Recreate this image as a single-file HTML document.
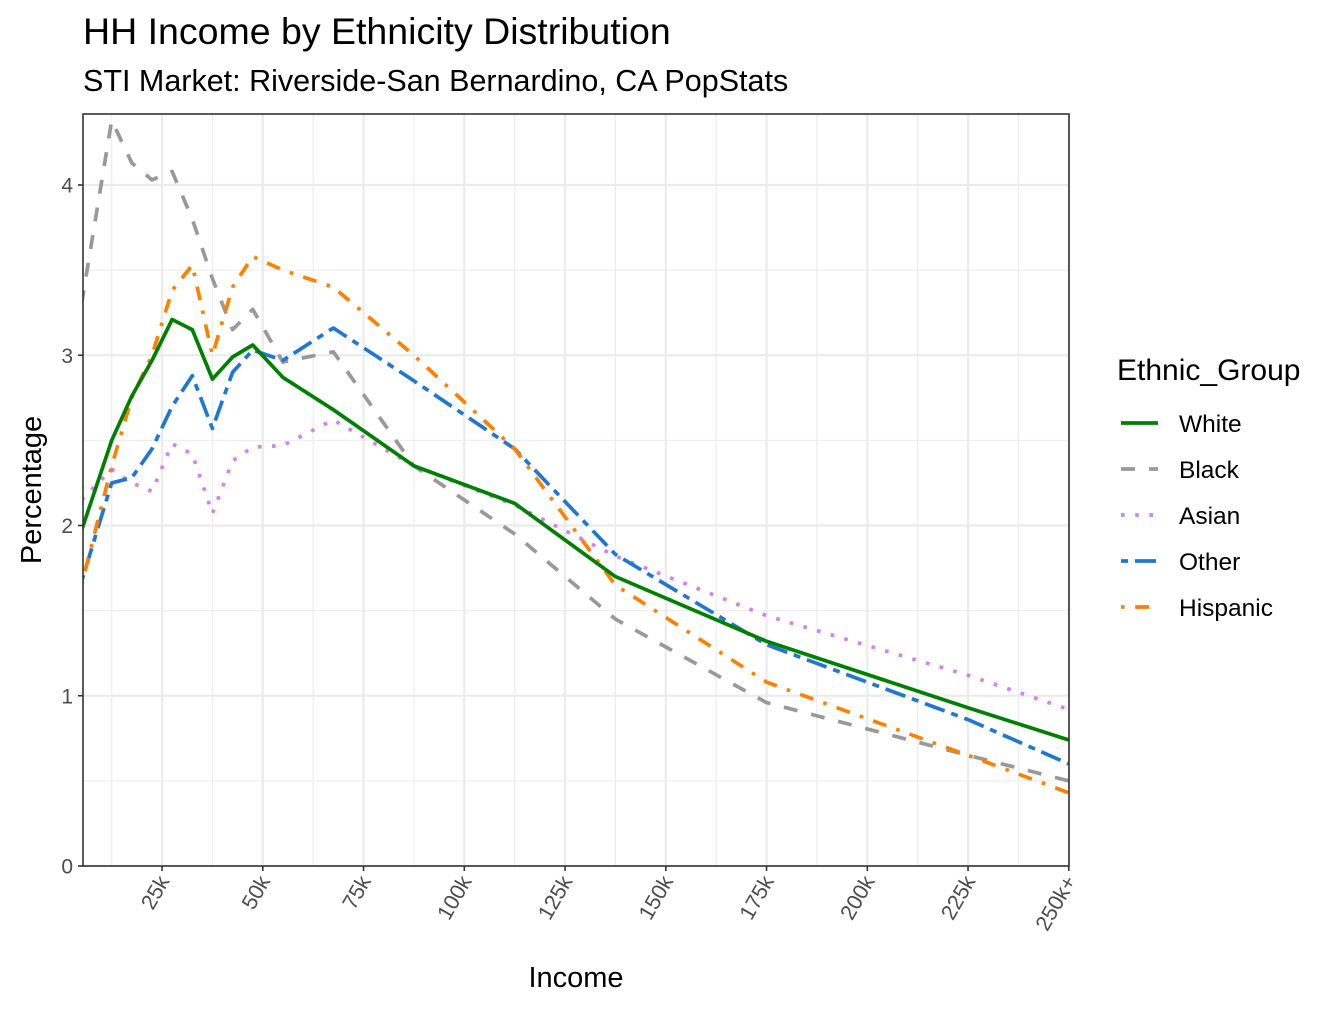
<!DOCTYPE html>
<html><head><meta charset="utf-8"><style>
body{margin:0;background:#fff;}
svg text{font-family:"Liberation Sans",Arial,sans-serif;}
</style></head><body>
<svg id="chart" width="1344" height="1008" xmlns="http://www.w3.org/2000/svg">
<rect width="1344" height="1008" fill="#fff"/>
<text x="83" y="44" font-size="37.5" fill="#000">HH Income by Ethnicity Distribution</text>
<text x="83" y="91" font-size="30.5" fill="#000">STI Market: Riverside-San Bernardino, CA PopStats</text>
<g id="grid"></g>
<defs><clipPath id="pc"><rect x="83" y="114" width="986" height="752"/></clipPath></defs>
<g id="series" clip-path="url(#pc)"></g>
<rect x="83" y="114" width="986" height="752" fill="none" stroke="#333" stroke-width="1.6"/>
<g id="axes"></g>
<text x="576" y="987" font-size="29" text-anchor="middle">Income</text>
<text transform="translate(41,490) rotate(-90)" font-size="29" text-anchor="middle">Percentage</text>
<g id="legend">
<text x="1117" y="380" font-size="30">Ethnic_Group</text>
</g>
</svg>
<script>
const xVals=[5,12.5,17.5,22.5,27.5,32.5,37.5,42.5,47.5,55,67.5,87.5,112.5,137.5,175,225,250];
const seriesNames=["White","Black","Asian","Other","Hispanic"];
const white=[1.97,2.5,2.76,2.97,3.21,3.15,2.86,2.99,3.06,2.87,2.68,2.35,2.13,1.70,1.32,0.93,0.74];
const black=[3.3,4.38,4.13,4.03,4.08,3.8,3.45,3.15,3.27,2.96,3.02,2.35,1.95,1.45,0.96,0.65,0.5];
const asian=[2.15,2.33,2.25,2.2,2.48,2.42,2.07,2.38,2.46,2.47,2.62,2.35,2.12,1.82,1.47,1.12,0.92];
const other=[1.67,2.25,2.28,2.45,2.7,2.88,2.57,2.9,3.03,2.97,3.16,2.85,2.45,1.83,1.30,0.86,0.6];
const hispanic=[1.65,2.35,2.75,3.0,3.38,3.53,3.0,3.4,3.58,3.5,3.4,3.0,2.45,1.65,1.08,0.65,0.43];
const xTickVals=[25,50,75,100,125,150,175,200,225,250];
const xTickLabels=["25k","50k","75k","100k","125k","150k","175k","200k","225k","250k+"];
const yTickVals=[0,1,2,3,4];
const NS="http://www.w3.org/2000/svg";
const X=v=>61.3+v*4.03;
const Y=v=>866-v*170.25;
function mk(tag,attrs,parent){const e=document.createElementNS(NS,tag);for(const k in attrs)e.setAttribute(k,attrs[k]);parent.appendChild(e);return e;}
const grid=document.getElementById('grid'),axes=document.getElementById('axes'),ser=document.getElementById('series'),leg=document.getElementById('legend');
for(let i=0;i<yTickVals.length;i++){
 const v=yTickVals[i];
 if(i<yTickVals.length-1){const m=mk('line',{x1:83,x2:1069,y1:Y(v+0.5),y2:Y(v+0.5),stroke:'#ebebeb','stroke-width':1.1},grid);
 }
 const g=mk('line',{x1:83,x2:1069,y1:Y(v),y2:Y(v),stroke:'#ebebeb','stroke-width':2.2},grid);
 
 const t=mk('line',{x1:78,x2:83,y1:Y(v),y2:Y(v),stroke:'#333','stroke-width':1.6},axes);
 
 const l=mk('text',{x:73,y:Y(v)+7.5,'font-size':21,fill:'#4d4d4d','text-anchor':'end'},axes);
 l.textContent=v;
}
for(let i=0;i<xTickVals.length;i++){
 const v=xTickVals[i];
 const m=mk('line',{x1:X(v-12.5),x2:X(v-12.5),y1:114,y2:866,stroke:'#ebebeb','stroke-width':1.1},grid);
 
 const g=mk('line',{x1:X(v),x2:X(v),y1:114,y2:866,stroke:'#ebebeb','stroke-width':2.2},grid);
 
 const t=mk('line',{x1:X(v),x2:X(v),y1:866,y2:871,stroke:'#333','stroke-width':1.6},axes);
 
 const l=mk('text',{x:0,y:0,'font-size':21.5,fill:'#4d4d4d','text-anchor':'end',transform:`translate(${X(v)+8},${881}) rotate(-60)`},axes);
 l.textContent=xTickLabels[i];
}
const data=[white,black,asian,other,hispanic];
const colors=["#008000","#999999","#d17ff5","#1f77d1","#ff8000"];
const dashes=["none","14 14","3.6 10.6","7 7 21 7","3.6 10.6 14 10.6"];
const order=[1,2,3,4,0];
for(const i of order){
 const d=data[i].map((v,j)=>(j?'L':'M')+X(xVals[j]).toFixed(1)+','+Y(v).toFixed(1)).join('');
 const p=mk('path',{d:d,fill:'none',stroke:colors[i],'stroke-width':3.7,'stroke-dasharray':dashes[i],'stroke-linejoin':'round'},ser);
 
}
for(let i=0;i<5;i++){
 const y=423+i*46;
 const k=mk('line',{x1:1121,x2:1158,y1:y,y2:y,stroke:colors[i],'stroke-width':3.7,'stroke-dasharray':dashes[i]},leg);
 
 const t=mk('text',{x:1179,y:y+9,'font-size':24.5},leg);
 t.textContent=seriesNames[i];
}
</script>
</body></html>
